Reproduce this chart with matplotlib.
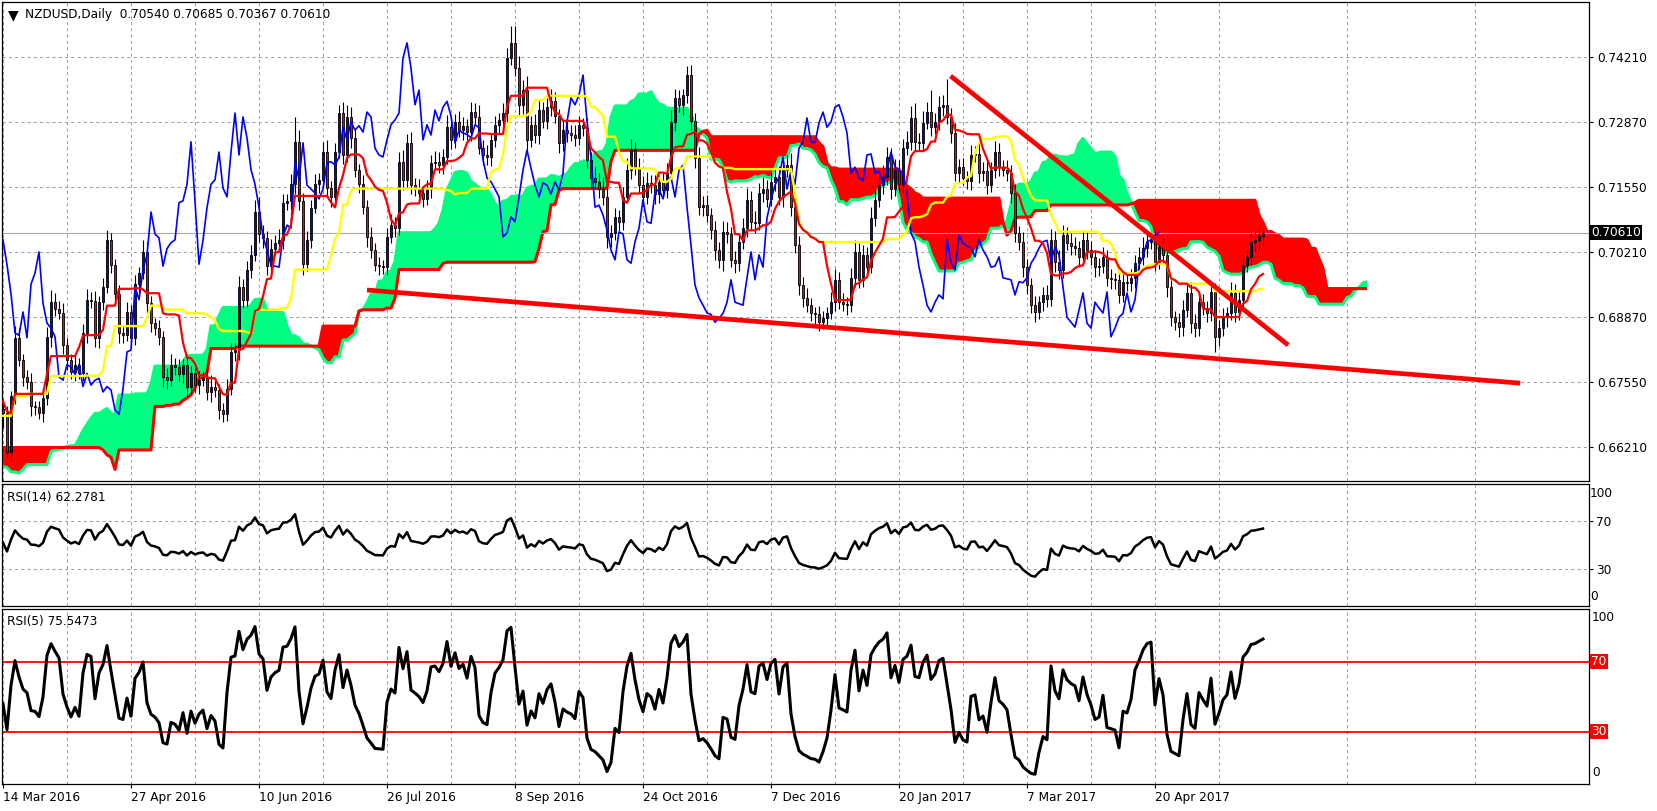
import numpy as np
import pandas as pd
import matplotlib
matplotlib.use("Agg")
import matplotlib.pyplot as plt
import matplotlib.transforms as mtransforms

plt.rcParams['font.family'] = ['DejaVu Sans']

# ---- data (prices in pips, 1 pip = 0.0001) ----
# daily closes before the first visible bar (needed for the Ichimoku windows / RSI warm-up)
pre_close = [6560, 6580, 6540, 6590, 6620, 6600, 6660, 6690, 6660, 6720, 6700, 6770, 6750,
             6740, 6790, 6760, 6700, 6720, 6760, 6800, 6830, 6850, 6840, 6860, 6880, 6870,
             6850, 6840, 6770, 6720, 6660, 6600, 6560, 6530, 6500, 6490, 6450, 6360, 6470,
             6480, 6465, 6490, 6470, 6485, 6475, 6490, 6500, 6510, 6540, 6620, 6640, 6630,
             6600, 6620, 6660, 6700, 6680, 6620, 6580, 6600, 6640, 6610, 6650, 6680, 6690,
             6710, 6670, 6600, 6620, 6650, 6700, 6730, 6760, 6780, 6790, 6640, 6720, 6700]

close_pips = [
    6690, 6610, 6725, 6845, 6800, 6765, 6755, 6705, 6703, 6690, 6722, 6847, 6918, 6905, 6895, 6830,
    6800, 6775, 6790, 6772, 6855, 6923, 6920, 6845, 6918, 6949, 7046, 6995, 6935, 6855, 6850, 6898,
    6845, 6955, 6978, 7021, 6916, 6875, 6865, 6847, 6765, 6758, 6790, 6785, 6770, 6790, 6745, 6772,
    6748, 6758, 6762, 6734, 6745, 6738, 6697, 6688, 6740, 6816, 6820, 6950, 6923, 6985, 7015, 7103,
    7058, 7050, 6992, 7028, 7040, 7046, 7122, 7126, 7160, 7247, 7125, 6996, 7045, 7112, 7160, 7169,
    7226, 7152, 7134, 7226, 7306, 7220, 7298, 7255, 7190, 7160, 7113, 7052, 7025, 6994, 6992, 6990,
    7052, 7076, 7070, 7206, 7169, 7245, 7158, 7150, 7142, 7130, 7150, 7204, 7206, 7200, 7215, 7277,
    7251, 7288, 7271, 7280, 7267, 7308, 7298, 7234, 7220, 7216, 7251, 7282, 7292, 7306, 7419, 7450,
    7398, 7323, 7353, 7251, 7282, 7261, 7312, 7290, 7318, 7330, 7300, 7245, 7271, 7265, 7262, 7255,
    7282, 7276, 7210, 7173, 7165, 7150, 7134, 7052, 7060, 7093, 7083, 7134, 7189, 7230, 7193, 7158,
    7134, 7163, 7158, 7140, 7165, 7148, 7183, 7288, 7337, 7323, 7343, 7384, 7290, 7214, 7113, 7117,
    7097, 7066, 7025, 7005, 7062, 7058, 7005, 6998, 7042, 7070, 7128, 7083, 7080, 7142, 7150, 7130,
    7165, 7175, 7134, 7189, 7199, 7113, 7035, 6953, 6927, 6912, 6896, 6893, 6877, 6885, 6895, 6918,
    6964, 6918, 6915, 6912, 6968, 7021, 6964, 7015, 6990, 7091, 7128, 7158, 7175, 7216, 7150, 7189,
    7160, 7234, 7247, 7296, 7247, 7245, 7286, 7308, 7277, 7288, 7318, 7323, 7298, 7265, 7183, 7195,
    7173, 7167, 7220, 7222, 7183, 7187, 7158, 7189, 7226, 7195, 7190, 7183, 7142, 7060, 7042, 6990,
    6953, 6912, 6898, 6918, 6933, 6925, 7046, 7000, 6984, 7056, 7039, 7033, 7030, 7011, 7046, 7025,
    7011, 6990, 6992, 7011, 6968, 6966, 6964, 6933, 6960, 6958, 6968, 6998, 7011, 7029, 7042, 7045,
    7001, 7031, 7015, 6949, 6887, 6877, 6867, 6902, 6937, 6875, 6865, 6918, 6906, 6896, 6939, 6847,
    6865, 6887, 6895, 6937, 6898, 6923, 6994, 7011, 7042, 7046, 7054, 7061]

wick_up = [
    20, 15, 10, 25, 20, 12, 15, 18, 10, 12, 14, 20, 25, 18, 15, 22,
    15, 12, 20, 14, 18, 22, 15, 20, 12, 18, 20, 15, 12, 18, 14, 20,
    15, 18, 12, 25, 20, 14, 10, 16, 12, 18, 22, 14, 16, 12, 20, 15,
    12, 18, 14, 20, 24, 16, 12, 15, 20, 18, 14, 22, 16, 18, 20, 25,
    30, 18, 14, 20, 16, 22, 18, 14, 20, 51, 25, 18, 20, 16, 22, 15,
    20, 25, 14, 18, 17, 22, 25, 20, 16, 12, 18, 15, 20, 14, 16, 12,
    18, 22, 16, 20, 25, 18, 22, 15, 20, 14, 18, 16, 22, 20, 18, 24,
    20, 16, 22, 18, 14, 20, 18, 24, 16, 20, 15, 18, 14, 20, 20, 35,
    35, 25, 20, 30, 18, 22, 20, 16, 18, 25, 20, 15, 18, 22, 16, 20,
    18, 14, 20, 16, 22, 18, 24, 20, 16, 18, 14, 20, 25, 22, 16, 20,
    18, 22, 16, 20, 14, 18, 20, 25, 18, 16, 12, 19, 20, 16, 22, 18,
    20, 14, 18, 16, 22, 20, 14, 18, 16, 20, 25, 18, 22, 20, 24, 18,
    20, 16, 22, 18, 20, 25, 14, 18, 16, 20, 14, 12, 18, 16, 14, 20,
    22, 16, 18, 14, 20, 25, 18, 20, 16, 22, 20, 18, 24, 20, 18, 22,
    20, 18, 22, 25, 30, 18, 24, 20, 45, 18, 22, 20, 53, 18, 20, 16,
    18, 14, 20, 16, 22, 18, 20, 16, 22, 18, 14, 20, 16, 18, 14, 20,
    16, 14, 18, 12, 16, 20, 22, 18, 25, 20, 16, 22, 18, 14, 20, 16,
    18, 14, 16, 20, 14, 18, 12, 16, 20, 14, 18, 16, 20, 22, 18, 16,
    20, 14, 18, 16, 14, 12, 18, 20, 16, 22, 18, 20, 16, 14, 20, 18,
    16, 20, 14, 22, 18, 16, 20, 14, 18, 16, 20, 8]

wick_dn = [
    30, 12, 20, 15, 12, 18, 14, 20, 16, 12, 18, 14, 20, 16, 12, 18,
    20, 14, 18, 12, 16, 20, 14, 18, 20, 15, 12, 18, 14, 20, 16, 12,
    18, 14, 16, 12, 20, 18, 14, 16, 20, 18, 12, 16, 14, 18, 20, 16,
    14, 18, 12, 16, 20, 14, 18, 16, 14, 12, 18, 20, 16, 14, 18, 12,
    16, 20, 18, 14, 16, 12, 18, 14, 16, 20, 18, 22, 14, 16, 12, 18,
    14, 18, 20, 16, 12, 18, 14, 20, 16, 18, 14, 20, 16, 12, 18, 14,
    16, 12, 18, 14, 20, 16, 18, 14, 20, 16, 12, 18, 14, 16, 20, 14,
    18, 16, 14, 20, 16, 18, 14, 12, 20, 16, 18, 14, 16, 12, 18, 14,
    16, 20, 18, 20, 14, 16, 18, 14, 16, 18, 14, 20, 16, 18, 14, 16,
    14, 18, 16, 20, 14, 18, 16, 22, 20, 14, 18, 16, 12, 18, 14, 16,
    18, 14, 16, 20, 18, 14, 16, 12, 18, 14, 20, 16, 18, 20, 16, 18,
    14, 18, 20, 16, 22, 18, 14, 20, 16, 14, 18, 16, 20, 14, 18, 16,
    14, 18, 16, 20, 14, 18, 16, 20, 18, 14, 16, 20, 18, 14, 16, 12,
    18, 14, 16, 20, 14, 18, 16, 14, 18, 12, 16, 14, 18, 16, 20, 14,
    16, 18, 14, 16, 18, 14, 16, 12, 18, 14, 16, 18, 14, 20, 16, 18,
    14, 16, 18, 14, 20, 16, 18, 14, 16, 18, 14, 16, 20, 18, 16, 20,
    18, 16, 20, 14, 18, 16, 14, 20, 18, 16, 14, 18, 16, 20, 14, 18,
    16, 20, 18, 14, 16, 20, 18, 16, 14, 18, 16, 20, 14, 16, 18, 14,
    18, 14, 16, 20, 18, 16, 20, 18, 14, 20, 18, 16, 14, 18, 16, 31,
    18, 16, 20, 14, 20, 16, 18, 14, 16, 18, 20, 18]

# drawn trend lines: (bar index, price)
trend_down = [(236.9, 0.73820), (321.3, 0.68300)]
trend_low = [(91.0, 0.69430), (379.3, 0.67520)]

price_levels = [0.74210, 0.72870, 0.71550, 0.70210, 0.68870, 0.67550, 0.66210]
last_price = 0.70610
date_labels = ["14 Mar 2016", "27 Apr 2016", "10 Jun 2016", "26 Jul 2016", "8 Sep 2016",
               "24 Oct 2016", "7 Dec 2016", "20 Jan 2017", "7 Mar 2017", "20 Apr 2017"]
title_text = "NZDUSD,Daily  0.70540 0.70685 0.70367 0.70610"
rsi14_text = "RSI(14) 62.2781"
rsi5_text = "RSI(5) 75.5473"

# ---- OHLC ----
n_pre = len(pre_close)
n_vis = len(close_pips)
allc = np.concatenate([pre_close, close_pips]).astype(float) / 1e4
allo = np.concatenate([[allc[0]], allc[:-1]])
allh = np.maximum(allo, allc)
alll = np.minimum(allo, allc)
allh[n_pre:] += np.array(wick_up) / 1e4
alll[n_pre:] -= np.array(wick_dn) / 1e4

# ---- Ichimoku (9, 26, 52) ----
sh, sl = pd.Series(allh), pd.Series(alll)
def midline(n):
    return ((sh.rolling(n).max() + sl.rolling(n).min()) / 2).values
tenkan = midline(9)
kijun = midline(26)
span_b_raw = midline(52)
span_a_raw = (tenkan + kijun) / 2

xv = np.arange(n_vis)
xs = np.arange(n_vis + 26)
span_a = span_a_raw[n_pre - 26:]
span_b = span_b_raw[n_pre - 26:]
chikou = allc[n_pre + 26:]
xc = np.arange(len(chikou))

# ---- RSI (Wilder) ----
def rsi(c, n):
    d = np.diff(c)
    up = np.where(d > 0, d, 0.0)
    dn = np.where(d < 0, -d, 0.0)
    au = np.full(len(c), np.nan)
    ad = np.full(len(c), np.nan)
    au[n] = up[:n].mean()
    ad[n] = dn[:n].mean()
    for k in range(n + 1, len(c)):
        au[k] = (au[k - 1] * (n - 1) + up[k - 1]) / n
        ad[k] = (ad[k - 1] * (n - 1) + dn[k - 1]) / n
    return 100 - 100 / (1 + au / ad)
rsi14 = rsi(allc, 14)[n_pre:]
rsi5 = rsi(allc, 5)[n_pre:]

# ---- figure layout (pixel boxes) ----
W, H = 1657, 811
fig = plt.figure(figsize=(W / 100, H / 100), dpi=100)
fig.patch.set_facecolor("white")

def box(x0, y0, x1, y1):
    return [x0 / W, 1 - y1 / H, (x1 - x0) / W, (y1 - y0) / H]

ax = fig.add_axes(box(2, 2, 1589, 481))
ax14 = fig.add_axes(box(2, 484, 1589, 606), sharex=ax)
ax5 = fig.add_axes(box(2, 609, 1589, 784), sharex=ax)

FS = 8.7      # axis labels
FS_T = 8.7    # panel titles
grid_kw = dict(color="#a0a0a0", linestyle=(0, (3, 3)), linewidth=0.75)

for a in (ax, ax14, ax5):
    for s in a.spines.values():
        s.set_color("black")
        s.set_linewidth(0.9)
    a.set_xlim(-0.25, 396.5)
    a.tick_params(axis="x", which="both", length=0, labelbottom=False)
    a.set_axisbelow(True)

ax.set_xticks(np.arange(0, 320, 32))
ax.set_xticks(np.arange(16, 400, 32), minor=True)
for a in (ax, ax14, ax5):
    a.grid(True, axis="x", which="both", **grid_kw)

# ---- main panel ----
ax.set_ylim(0.65513, 0.75338)
ax.yaxis.tick_right()
ax.set_yticks(price_levels)
ax.set_yticklabels([f"{p:.5f}" for p in price_levels], fontsize=FS)
ax.tick_params(axis="y", length=3, width=0.8, pad=3)
ax.grid(True, axis="y", **grid_kw)

up_cloud = span_a >= span_b
ax.fill_between(xs, span_a, span_b, where=up_cloud, color="#00FF80", interpolate=True,
                linewidth=0, zorder=1)
ax.fill_between(xs, span_a, span_b, where=~up_cloud, color="#FF0000", interpolate=True,
                linewidth=0, zorder=1)
ax.plot(xs, span_a, color="#00FF80", lw=2.2, zorder=2, solid_capstyle="butt")
ax.plot(xs, span_b, color="#FF0000", lw=2.2, zorder=2, solid_capstyle="butt")

ax.axhline(last_price, color="#a8a8a8", lw=0.8, zorder=2)

op = allo[n_pre:]
cl = allc[n_pre:]
hi = allh[n_pre:]
lo = alll[n_pre:]
bull = cl >= op
ax.vlines(xv, lo, hi, color="black", lw=0.8, zorder=3)
ax.bar(xv[bull], (cl - op)[bull], bottom=op[bull], width=0.74, color="#0000FF",
       edgecolor="black", linewidth=0.6, zorder=4)
ax.bar(xv[~bull], (op - cl)[~bull], bottom=cl[~bull], width=0.74, color="#FF0000",
       edgecolor="black", linewidth=0.6, zorder=4)

ax.plot(xc, chikou, color="#0000FF", lw=1.2, zorder=5)
ax.plot(xv, kijun[n_pre:], color="#FFFF00", lw=1.7, zorder=5)
ax.plot(xv, tenkan[n_pre:], color="#FF0000", lw=1.6, zorder=5)

for tl in (trend_down, trend_low):
    ax.plot([tl[0][0], tl[1][0]], [tl[0][1], tl[1][1]], color="#FF0000", lw=3.4,
            solid_capstyle="butt", zorder=6)

ax.text(0.0068, 0.973, "\u25BC", transform=ax.transAxes, fontsize=10, ha="center",
        va="center", color="black")
ax.text(0.0145, 0.973, title_text, transform=ax.transAxes, fontsize=FS_T, ha="left",
        va="center", color="black")

trans = mtransforms.blended_transform_factory(ax.transAxes, ax.transData)
ax.text(1.0013, last_price, f"{last_price:.5f}", transform=trans, fontsize=FS, color="white",
        ha="left", va="center", zorder=10,
        bbox=dict(boxstyle="square,pad=0.12", fc="black", ec="none"))

# ---- RSI(14) ----
ax14.set_ylim(0, 100)
ax14.yaxis.tick_right()
ax14.set_yticks([70, 30])
ax14.set_yticklabels(["70", "30"], fontsize=FS)
ax14.tick_params(axis="y", length=3, width=0.8, pad=2)
ax14.grid(True, axis="y", **grid_kw)
ax14.plot(xv, rsi14, color="black", lw=1.8)
t14 = mtransforms.blended_transform_factory(ax14.transAxes, ax14.transData)
ax14.text(1.0005, 92.6, "100", transform=t14, fontsize=FS, ha="left", va="center")
ax14.text(1.0005, 7.4, "0", transform=t14, fontsize=FS, ha="left", va="center")
ax14.text(0.0032, 0.893, rsi14_text, transform=ax14.transAxes, fontsize=FS_T, ha="left",
          va="center")

# ---- RSI(5) ----
ax5.set_ylim(0, 100)
ax5.set_yticks([])
ax5.axhline(70, color="#FF0000", lw=1.3)
ax5.axhline(30, color="#FF0000", lw=1.3)
ax5.plot(xv, rsi5, color="black", lw=2.2)
t5 = mtransforms.blended_transform_factory(ax5.transAxes, ax5.transData)
ax5.text(1.0018, 94.9, "100", transform=t5, fontsize=FS, ha="left", va="center")
ax5.text(1.0018, 6.3, "0", transform=t5, fontsize=FS, ha="left", va="center")
for lvl in (70, 30):
    ax5.text(1.0013, lvl, str(lvl), transform=t5, fontsize=FS, ha="left", va="center",
             color="white", bbox=dict(boxstyle="square,pad=0.12", fc="#FF0000", ec="none"))
ax5.text(0.0032, 0.926, rsi5_text, transform=ax5.transAxes, fontsize=FS_T, ha="left",
         va="center")

ax5.tick_params(axis="x", which="major", length=3, width=0.8, pad=2, labelbottom=True,
                labelsize=FS)
ax5.set_xticklabels(date_labels)
for lab in ax5.get_xticklabels():
    lab.set_ha("left")

fig.savefig("out.png", dpi=100)
